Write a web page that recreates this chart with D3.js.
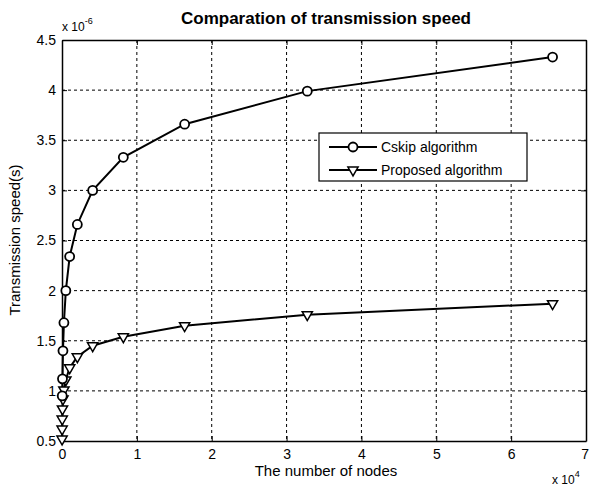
<!DOCTYPE html>
<html>
<head>
<meta charset="utf-8">
<script src="https://cdn.jsdelivr.net/npm/d3@7"></script>
<style>
body { margin: 0; background: #fff; }
text { font-family: "Liberation Sans", Arial, sans-serif; fill: #000; }
.grid line { stroke: #000; stroke-dasharray: 3,3; stroke-width: 1; }
.axis path, .axis line { stroke: #000; }
.axis text { font-size: 14px; }
</style>
</head>
<body>
<div id="chart"></div>
<script>
// nodes (x) and transmission speed (x 1e-6 s)
var cskip_nodes = [32, 64, 128, 256, 512, 1024, 2048, 4096, 8192, 16384, 32768, 65536];
var cskip_vals  = [0.95, 1.12, 1.40, 1.68, 2.00, 2.34, 2.66, 3.00, 3.33, 3.66, 3.99, 4.33];
var prop_nodes = [8, 16, 32, 64, 128, 256, 512, 1024, 2048, 4096, 8192, 16384, 32768, 65536];
var prop_vals  = [0.52, 0.62, 0.72, 0.82, 0.92, 1.01, 1.11, 1.23, 1.34, 1.45, 1.54, 1.65, 1.76, 1.87];
var x_ticks = [0, 1, 2, 3, 4, 5, 6, 7];
var y_ticks = [0.5, 1, 1.5, 2, 2.5, 3, 3.5, 4, 4.5];
var legend_labels = ["Cskip algorithm", "Proposed algorithm"];

var margin = {top: 40, right: 5, bottom: 48, left: 62},
    width = 591 - margin.left - margin.right,
    height = 489 - margin.top - margin.bottom;

var x = d3.scaleLinear().domain([0, 70000]).range([0, width]),
    y = d3.scaleLinear().domain([0.5, 4.5]).range([height, 0]);

var svg = d3.select("#chart").append("svg")
    .attr("width", 591)
    .attr("height", 489);

var g = svg.append("g")
    .attr("transform", "translate(" + margin.left + "," + margin.top + ")");

// grid
g.append("g").attr("class", "grid")
    .selectAll("line").data(x_ticks.slice(1, -1))
    .enter().append("line")
    .attr("x1", function(d) { return x(d * 1e4); })
    .attr("x2", function(d) { return x(d * 1e4); })
    .attr("y1", 0).attr("y2", height);

g.append("g").attr("class", "grid")
    .selectAll("line").data(y_ticks.slice(1, -1))
    .enter().append("line")
    .attr("y1", function(d) { return y(d); })
    .attr("y2", function(d) { return y(d); })
    .attr("x1", 0).attr("x2", width);

// axes (matlab style: ticks inside)
var xax = g.append("g").attr("class", "axis")
    .attr("transform", "translate(0," + height + ")")
    .call(d3.axisBottom(x).tickValues(x_ticks.map(function(d) { return d * 1e4; }))
        .tickFormat(function(d) { return d / 1e4; })
        .tickSizeInner(-5).tickSizeOuter(0).tickPadding(8));
xax.selectAll(".tick:last-of-type text").attr("dx", "-0.1em");

g.append("g").attr("class", "axis")
    .call(d3.axisLeft(y).tickValues(y_ticks)
        .tickFormat(function(d) { return d; })
        .tickSizeInner(-5).tickSizeOuter(0).tickPadding(6));

g.append("g").attr("class", "axis")
    .call(d3.axisTop(x).tickValues(x_ticks.map(function(d) { return d * 1e4; }))
        .tickFormat("").tickSizeInner(-5).tickSizeOuter(0));

g.append("g").attr("class", "axis")
    .attr("transform", "translate(" + width + ",0)")
    .call(d3.axisRight(y).tickValues(y_ticks)
        .tickFormat("").tickSizeInner(-5).tickSizeOuter(0));

g.selectAll(".axis path").attr("stroke-width", 1.5);

var line = d3.line()
    .x(function(d) { return x(d[0]); })
    .y(function(d) { return y(d[1]); });

var cskip = cskip_nodes.map(function(n, i) { return [n, cskip_vals[i]]; });
var prop = prop_nodes.map(function(n, i) { return [n, prop_vals[i]]; });

g.append("path").datum(cskip)
    .attr("d", line).attr("fill", "none")
    .attr("stroke", "#000").attr("stroke-width", 2);

g.append("path").datum(prop)
    .attr("d", line).attr("fill", "none")
    .attr("stroke", "#000").attr("stroke-width", 2);

var tri = d3.symbol().type(d3.symbolTriangle).size(45);

g.selectAll(".tri").data(prop)
    .enter().append("path")
    .attr("class", "tri")
    .attr("d", tri)
    .attr("transform", function(d) { return "translate(" + x(d[0]) + "," + y(d[1]) + ") rotate(180)"; })
    .attr("fill", "#fff").attr("stroke", "#000").attr("stroke-width", 1.5);

g.selectAll(".dot").data(cskip)
    .enter().append("circle")
    .attr("class", "dot")
    .attr("r", 4.5)
    .attr("cx", function(d) { return x(d[0]); })
    .attr("cy", function(d) { return y(d[1]); })
    .attr("fill", "#fff").attr("stroke", "#000").attr("stroke-width", 1.8);

// legend
var legend = svg.append("g").attr("transform", "translate(319,133)");
legend.append("rect")
    .attr("width", 208).attr("height", 48)
    .attr("fill", "#fff").attr("stroke", "#000").attr("stroke-width", 1.2);

var items = legend.selectAll(".legend").data(legend_labels)
    .enter().append("g")
    .attr("transform", function(d, i) { return "translate(0," + (14 + i * 23) + ")"; });

items.append("line")
    .attr("x1", 10).attr("x2", 58)
    .attr("stroke", "#000").attr("stroke-width", 2);

items.filter(function(d, i) { return i === 0; })
    .append("circle").attr("cx", 34).attr("r", 4.5)
    .attr("fill", "#fff").attr("stroke", "#000").attr("stroke-width", 1.8);

items.filter(function(d, i) { return i === 1; })
    .append("path").attr("d", tri)
    .attr("transform", "translate(34,0) rotate(180)")
    .attr("fill", "#fff").attr("stroke", "#000").attr("stroke-width", 1.5);

items.append("text")
    .attr("x", 62).attr("dy", ".35em")
    .style("font-size", "14px")
    .text(function(d) { return d; });

// titles and labels
svg.append("text")
    .attr("x", 326).attr("y", 24)
    .attr("text-anchor", "middle")
    .style("font-size", "17px").style("font-weight", "bold")
    .text("Comparation of transmission speed");

var e1 = svg.append("text").attr("x", 62).attr("y", 31).style("font-size", "12px");
e1.append("tspan").text("x 10");
e1.append("tspan").attr("dy", -7).style("font-size", "9px").text("-6");

var e2 = svg.append("text").attr("x", 552).attr("y", 484).style("font-size", "12px");
e2.append("tspan").text("x 10");
e2.append("tspan").attr("dy", -7).style("font-size", "9px").text("4");

svg.append("text")
    .attr("x", 326).attr("y", 476)
    .attr("text-anchor", "middle")
    .style("font-size", "15px")
    .text("The number of nodes");

svg.append("text")
    .attr("transform", "translate(20,240) rotate(-90)")
    .attr("text-anchor", "middle")
    .style("font-size", "15px")
    .text("Transmission speed(s)");
</script>
</body>
</html>
